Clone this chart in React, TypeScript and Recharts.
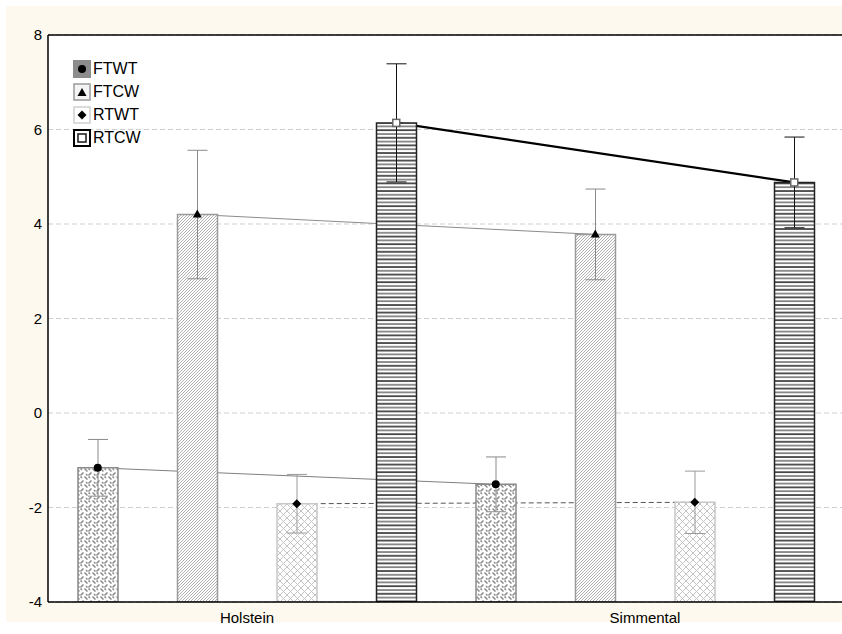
import React from 'react';
import { ComposedChart, Bar, Line, XAxis, YAxis, CartesianGrid, ErrorBar } from 'recharts';

const categories = ['Holstein', 'Simmental'];
const seriesNames = ['FTWT', 'FTCW', 'RTWT', 'RTCW'];
const ftwt = [-1.16, -1.51];
const ftwtErr = [0.6, 0.58];
const ftcw = [4.2, 3.78];
const ftcwErr = [1.36, 0.96];
const rtwt = [-1.92, -1.89];
const rtwtErr = [0.62, 0.66];
const rtcw = [6.14, 4.88];
const rtcwErr = [1.25, 0.96];
const yTicks = [-4, -2, 0, 2, 4, 6, 8];
const Y_MIN = -4;
const Y_MAX = 8;

const seriesValues = [ftwt, ftcw, rtwt, rtcw];
const seriesErrors = [ftwtErr, ftcwErr, rtwtErr, rtcwErr];

const data = categories.map((name, i) => {
  const row: any = { name };
  seriesNames.forEach((s, k) => {
    row[s] = [Y_MIN, seriesValues[k][i]];
    row[s + 'Err'] = seriesErrors[k][i];
  });
  return row;
});

// connector/marker points sit at the bar centres on a hidden numeric axis (0..categories.length)
const n = seriesNames.length;
const lineData = seriesNames.map((s, k) =>
  categories.map((c, i) => ({ x: i + (2 * k + 1) / (2 * n), y: seriesValues[k][i] }))
);

const styles = [
  { fill: 'url(#pFTWT)', stroke: '#8a8a8a', err: '#8a8a8a', line: '#7f7f7f', lw: 1, dash: undefined as any, marker: 'circle' },
  { fill: 'url(#pFTCW)', stroke: '#9a9a9a', err: '#8a8a8a', line: '#8c8c8c', lw: 1, dash: undefined as any, marker: 'triangle' },
  { fill: 'url(#pRTWT)', stroke: '#c8c8c8', err: '#9a9a9a', line: '#555555', lw: 1, dash: '5 3', marker: 'diamond' },
  { fill: 'url(#pRTCW)', stroke: '#222222', err: '#111111', line: '#000000', lw: 2.2, dash: undefined as any, marker: 'square' },
];

const FONT = '"Liberation Sans", Arial, sans-serif';

function Marker({ type, cx, cy }: { type: string; cx: number; cy: number }) {
  if (cx == null || cy == null || isNaN(cx) || isNaN(cy)) return null;
  if (type === 'circle') return <circle cx={cx} cy={cy} r={4} fill="#000" />;
  if (type === 'triangle')
    return <path d={`M${cx},${cy - 5} L${cx + 4.5},${cy + 3} L${cx - 4.5},${cy + 3} Z`} fill="#000" />;
  if (type === 'diamond')
    return <path d={`M${cx},${cy - 4.5} L${cx + 4.5},${cy} L${cx},${cy + 4.5} L${cx - 4.5},${cy} Z`} fill="#000" />;
  return <rect x={cx - 3.5} y={cy - 3.5} width={7} height={7} fill="#fff" stroke="#666" strokeWidth={1.5} />;
}

function LegendIcon({ idx }: { idx: number }) {
  const st = styles[idx];
  let box: any;
  if (idx === 0) box = <rect x={0.5} y={0.5} width={17} height={17} fill="#8c8c8c" stroke="#8c8c8c" />;
  else if (idx === 1) box = <rect x={1} y={1} width={16} height={16} fill="#f4f4f4" stroke="#9a9a9a" strokeWidth={1.5} />;
  else if (idx === 2) box = <rect x={1} y={1} width={16} height={16} fill="#fff" stroke="#cfcfcf" strokeWidth={1.5} />;
  else box = <rect x={1} y={1} width={16} height={16} fill="#fff" stroke="#000" strokeWidth={2} />;
  return (
    <svg width={18} height={18} style={{ display: 'block' }}>
      {box}
      {idx === 3 ? (
        <rect x={5} y={5} width={8} height={8} fill="#fff" stroke="#222" strokeWidth={1.6} />
      ) : (
        <Marker type={st.marker} cx={9} cy={idx === 1 ? 10 : 9} />
      )}
    </svg>
  );
}

export default function App() {
  return (
    <div style={{ position: 'fixed', left: 0, top: 0, width: 842, height: 634, overflow: 'hidden', background: '#fff' }}>
      <div style={{ position: 'absolute', left: 6, top: 6, width: 836, height: 616, background: '#FEF9EE' }} />
      <svg width={0} height={0} style={{ position: 'absolute' }}>
        <defs>
          <pattern id="pFTWT" width={8} height={8} patternUnits="userSpaceOnUse">
            <rect width={8} height={8} fill="#fff" />
            <path d="M0.5,3.5 L3.5,0.5 M4.5,4.5 L7.5,7.5 M0.5,4.5 L2,6 M6,2 L7.5,3.5" stroke="#8a8a8a" strokeWidth={1.5} fill="none" />
          </pattern>
          <pattern id="pFTCW" width={3} height={3} patternUnits="userSpaceOnUse">
            <rect width={3} height={3} fill="#fff" />
            <path d="M-1,1 L1,-1 M0,3 L3,0 M2,4 L4,2" stroke="#a8a8a8" strokeWidth={0.9} fill="none" />
          </pattern>
          <pattern id="pRTWT" width={7} height={7} patternUnits="userSpaceOnUse">
            <rect width={7} height={7} fill="#fff" />
            <path d="M0,0 L7,7 M7,0 L0,7" stroke="#c4c4c4" strokeWidth={1} fill="none" />
          </pattern>
          <pattern id="pRTCW" width={8} height={7.6} patternUnits="userSpaceOnUse">
            <rect width={8} height={7.6} fill="#fff" />
            <line x1={0} y1={1} x2={8} y2={1} stroke="#000" strokeWidth={1.3} />
            <line x1={0} y1={4.8} x2={8} y2={4.8} stroke="#555" strokeWidth={1.3} />
          </pattern>
        </defs>
      </svg>
      <div style={{ position: 'absolute', left: 0, top: 0 }}>
        <ComposedChart
          width={850}
          height={634}
          data={data}
          margin={{ top: 35, right: 6, bottom: 0, left: 0 }}
          barSize={40}
          barGap={59.5}
        >
          <CartesianGrid vertical={false} stroke="#cfcfcf" strokeDasharray="5 3" fill="#ffffff" />
          <XAxis
            dataKey="name"
            axisLine={{ stroke: '#000', strokeWidth: 1.5 }}
            tickLine={false}
            tickSize={0}
            tickMargin={10}
            height={32}
            tick={{ fill: '#000', fontSize: 15, fontFamily: FONT }}
          />
          <XAxis xAxisId="bt" dataKey="name" orientation="bottom" mirror tick={false} tickSize={4} axisLine={false} tickLine={{ stroke: '#000' }} />
          <XAxis xAxisId="top" dataKey="name" orientation="top" mirror tick={false} tickSize={4} axisLine={{ stroke: '#000', strokeWidth: 1.5 }} tickLine={{ stroke: '#000' }} />
          <XAxis xAxisId="num" type="number" dataKey="x" domain={[0, categories.length]} allowDataOverflow hide />
          <YAxis
            domain={[Y_MIN, Y_MAX]}
            ticks={yTicks}
            width={48}
            axisLine={{ stroke: '#000', strokeWidth: 1.5 }}
            tickLine={false}
            tickSize={0}
            tickMargin={6}
            allowDataOverflow
            tick={{ fill: '#000', fontSize: 15, fontFamily: FONT }}
          />
          <YAxis yAxisId="right" orientation="right" mirror domain={[Y_MIN, Y_MAX]} ticks={yTicks} tick={false} tickSize={4} axisLine={false} tickLine={{ stroke: '#000' }} />
          {seriesNames.map((s, k) => (
            <Line
              key={'ln' + s}
              xAxisId="num"
              data={lineData[k]}
              dataKey="y"
              stroke={styles[k].line}
              strokeWidth={styles[k].lw}
              strokeDasharray={styles[k].dash}
              dot={false}
              activeDot={false}
              isAnimationActive={false}
              legendType="none"
              zIndex={250}
            />
          ))}
          {seriesNames.map((s, k) => (
            <Bar key={'bar' + s} dataKey={s} fill={styles[k].fill} stroke={styles[k].stroke} strokeWidth={1.5} isAnimationActive={false}>
              <ErrorBar dataKey={s + 'Err'} width={10} stroke={styles[k].err} strokeWidth={1} direction="y" />
            </Bar>
          ))}
          {seriesNames.map((s, k) => (
            <Line
              key={'mk' + s}
              xAxisId="num"
              data={lineData[k]}
              dataKey="y"
              stroke="none"
              dot={(p: any) => <Marker key={p.index} type={styles[k].marker} cx={p.cx} cy={p.cy} />}
              activeDot={false}
              isAnimationActive={false}
              legendType="none"
              zIndex={700}
            />
          ))}
        </ComposedChart>
      </div>
      <div style={{ position: 'absolute', left: 73, top: 57, fontFamily: FONT, fontSize: 16, color: '#000' }}>
        {seriesNames.map((s, k) => (
          <div key={s} style={{ display: 'flex', alignItems: 'center', height: 23 }}>
            <LegendIcon idx={k} />
            <span style={{ marginLeft: 2, lineHeight: '18px' }}>{s}</span>
          </div>
        ))}
      </div>
    </div>
  );
}
